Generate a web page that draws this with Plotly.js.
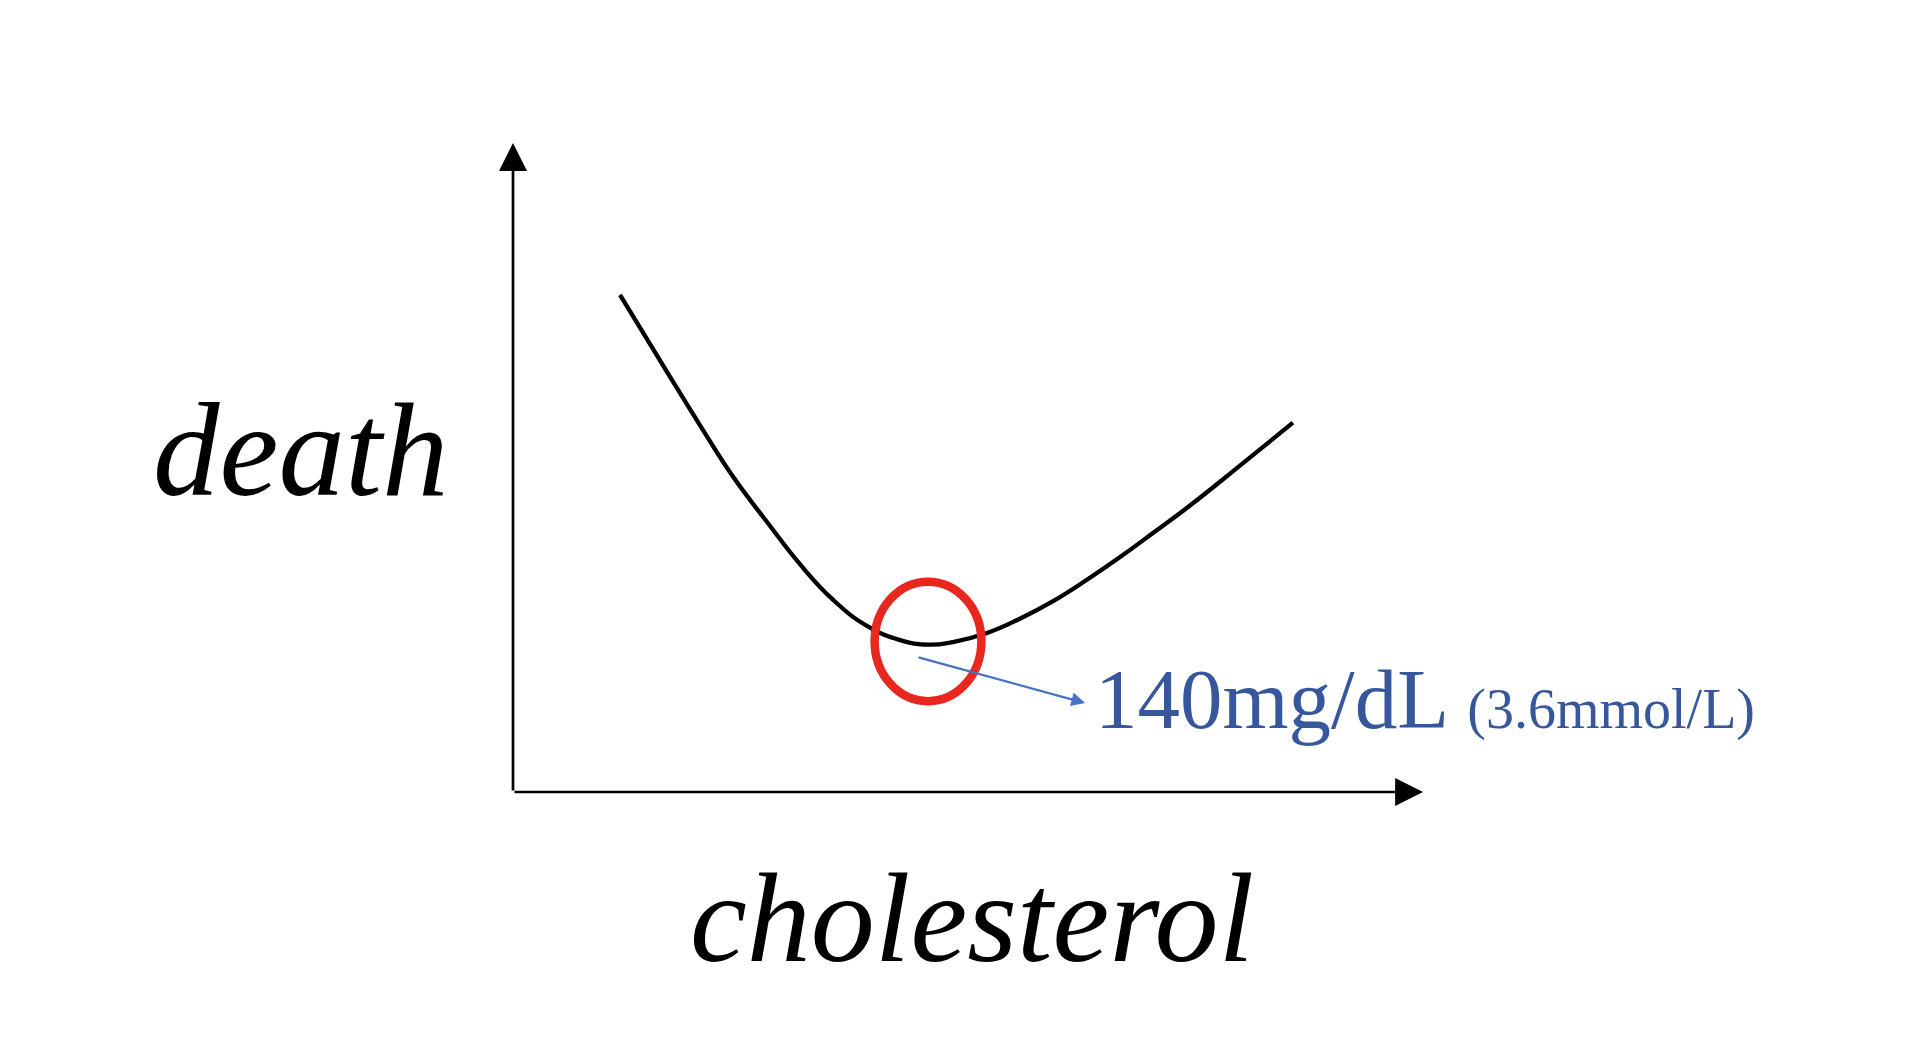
<!DOCTYPE html>
<html><head><meta charset="utf-8">
<script src="https://cdn.plot.ly/plotly-3.0.1.min.js"></script>
<style>html,body{margin:0;padding:0;background:#fff;overflow:hidden}</style>
</head><body><div id="chart" style="width:1910px;height:1044px"></div>
<script>
// Curve (cholesterol in mg/dL, death in relative units)
const cholesterol = [36.1, 52.0, 63.1, 74.2, 85.7, 96.8, 108.0, 119.4, 130.6, 140.0, 148.4, 159.9, 171.0, 182.2, 193.6, 204.8, 215.9, 227.4, 238.5, 249.6, 263.1];
const death       = [76.6, 64.7, 56.5, 48.6, 41.6, 35.1, 29.6, 25.6, 23.4, 22.7, 23.1, 24.5, 26.7, 29.4, 32.7, 36.2, 39.9, 43.8, 47.8, 51.9, 56.9];
// Highlighted optimum
const optimum = {x: 140, y: 22.7};
const axisLabels = {x: 'cholesterol', y: 'death'};
const optimumLabel = '140mg/dL';
const optimumLabelSub = '(3.6mmol/L)';
const axisEnds = {x: 307, y: 100};

const trace = {
  x: cholesterol, y: death, type: 'scatter', mode: 'lines',
  line: {color: '#000', width: 4.3, shape: 'spline', smoothing: 1.3},
  hoverinfo: 'skip'
};

const layout = {
  width: 1910, height: 1044,
  margin: {l: 0, r: 0, t: 0, b: 0},
  paper_bgcolor: '#fff', plot_bgcolor: '#fff',
  showlegend: false,
  xaxis: {range: [-173.06, 471.27], visible: false, fixedrange: true},
  yaxis: {range: [-38.83, 122.03], visible: false, fixedrange: true},
  shapes: [{
    type: 'circle', xref: 'x', yref: 'y',
    x0: optimum.x - 18.0, x1: optimum.x + 18.0,
    y0: optimum.y - 8.7, y1: optimum.y + 9.7,
    line: {color: '#e8281f', width: 8.5}
  }],
  annotations: [
    {x: 0, y: axisEnds.y, ax: 0, ay: 0, axref: 'x', ayref: 'y', xref: 'x', yref: 'y', text: '',
     showarrow: true, arrowhead: 2, arrowsize: 2.07, arrowwidth: 2.7, arrowcolor: '#000', standoff: 0},
    {x: axisEnds.x, y: 0, ax: 0, ay: 0, axref: 'x', ayref: 'y', xref: 'x', yref: 'y', text: '',
     showarrow: true, arrowhead: 2, arrowsize: 2.07, arrowwidth: 2.7, arrowcolor: '#000', standoff: 0},
    {x: 193.0, y: 13.7, ax: 136.3, ay: 20.8, axref: 'x', ayref: 'y', xref: 'x', yref: 'y', text: '',
     showarrow: true, arrowhead: 2, arrowsize: 1.25, arrowwidth: 2.2, arrowcolor: '#4472c4', standoff: 0},
    {x: 195.7, y: 14.33, xref: 'x', yref: 'y', xanchor: 'left', yanchor: 'middle', showarrow: false,
     text: optimumLabel + ' <span style="font-size:56px">' + optimumLabelSub + '</span>',
     font: {family: 'Liberation Serif', size: 85, color: '#36579b'}},
    {x: 0.1571, y: 0.5690, xref: 'paper', yref: 'paper', xanchor: 'center', yanchor: 'middle', showarrow: false,
     text: axisLabels.y, font: {family: 'Liberation Serif', size: 133, color: '#000', style: 'italic'}},
    {x: 0.5089, y: 0.1210, xref: 'paper', yref: 'paper', xanchor: 'center', yanchor: 'middle', showarrow: false,
     text: axisLabels.x, font: {family: 'Liberation Serif', size: 128, color: '#000', style: 'italic'}}
  ]
};

Plotly.newPlot('chart', [trace], layout, {staticPlot: true, displayModeBar: false});
</script>
</body></html>
